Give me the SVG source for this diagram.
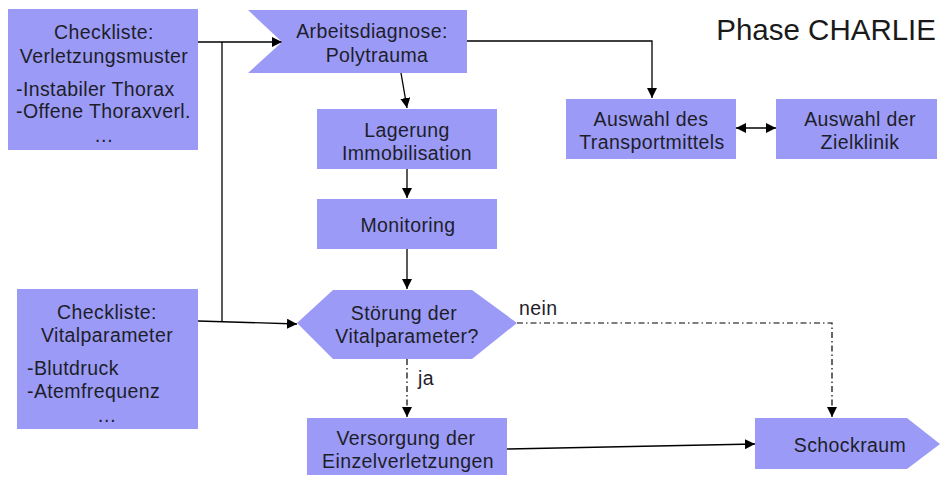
<svg xmlns="http://www.w3.org/2000/svg" width="940" height="477" viewBox="0 0 940 477">
  <style>
    .box { fill: #9b9bf7; stroke: none; }
    .t { font-family: "Liberation Sans", Arial, sans-serif; font-size: 19.5px; letter-spacing: 0.4px; fill: #1e1e2a; }
    .c { text-anchor: middle; }
    .ln { fill: none; stroke: #000; stroke-width: 1.3; }
    .dd { fill: none; stroke: #000; stroke-width: 1.2; stroke-dasharray: 6 3 1.5 3; }
  </style>
  <defs>
    <marker id="ah" viewBox="0 0 10 10" refX="10" refY="5" markerWidth="10" markerHeight="10" markerUnits="userSpaceOnUse" orient="auto-start-reverse">
      <path d="M0,0 L10,5 L0,10 z" fill="#000"/>
    </marker>
  </defs>

  <rect width="940" height="477" fill="#fff"/>

  <text x="936" y="40" text-anchor="end" font-family="'Liberation Sans', Arial, sans-serif" font-size="29.5" fill="#1a1a1a">Phase CHARLIE</text>

  <g id="connectors">
    <path class="ln" d="M198,42 L282,42" marker-end="url(#ah)"/>
    <path class="ln" d="M222,42 L222,322"/>
    <path class="ln" d="M198,321 L297,324" marker-end="url(#ah)"/>
    <path class="ln" d="M401,73 L407,108" marker-end="url(#ah)"/>
    <path class="ln" d="M407,169 L407,198" marker-end="url(#ah)"/>
    <path class="ln" d="M407,249 L407,289" marker-end="url(#ah)"/>
    <path class="ln" d="M467,41 L652,41 L652,98" marker-end="url(#ah)"/>
    <path class="ln" d="M736,128 L776,128" marker-start="url(#ah)" marker-end="url(#ah)"/>
    <path class="dd" d="M407,359 L407,417" marker-end="url(#ah)"/>
    <path class="dd" d="M517,323 L832,323 L832,417" marker-end="url(#ah)"/>
    <path class="ln" d="M507,449 L755,444" marker-end="url(#ah)"/>
    <text class="t" x="418" y="385">ja</text>
    <text class="t" x="519" y="315">nein</text>
  </g>

  <g id="checkliste-verletzungsmuster">
    <rect class="box" x="8" y="9" width="190" height="141"/>
    <text class="t c" x="104" y="39">Checkliste:</text>
    <text class="t c" x="104" y="63">Verletzungsmuster</text>
    <text class="t" x="16" y="96">-Instabiler Thorax</text>
    <text class="t" x="16" y="118">-Offene Thoraxverl.</text>
    <text class="t c" x="104" y="142">…</text>
  </g>

  <g id="arbeitsdiagnose">
    <polygon class="box" points="248,10 467,10 467,73 248,73 282,42"/>
    <text class="t c" x="372" y="38">Arbeitsdiagnose:</text>
    <text class="t c" x="377" y="62">Polytrauma</text>
  </g>

  <g id="lagerung">
    <rect class="box" x="317" y="109" width="180" height="60"/>
    <text class="t c" x="407" y="137">Lagerung</text>
    <text class="t c" x="407" y="160">Immobilisation</text>
  </g>

  <g id="monitoring">
    <rect class="box" x="317" y="199" width="180" height="50"/>
    <text class="t c" x="408" y="232">Monitoring</text>
  </g>

  <g id="transportmittel">
    <rect class="box" x="566" y="99" width="170" height="60"/>
    <text class="t c" x="651" y="126">Auswahl des</text>
    <text class="t c" x="652" y="149">Transportmittels</text>
  </g>

  <g id="zielklinik">
    <rect class="box" x="776" y="99" width="161" height="60"/>
    <text class="t c" x="860" y="126">Auswahl der</text>
    <text class="t c" x="860" y="149">Zielklinik</text>
  </g>

  <g id="checkliste-vitalparameter">
    <rect class="box" x="17" y="289" width="181" height="140"/>
    <text class="t c" x="107" y="319">Checkliste:</text>
    <text class="t c" x="107" y="342">Vitalparameter</text>
    <text class="t" x="27" y="375">-Blutdruck</text>
    <text class="t" x="27" y="398">-Atemfrequenz</text>
    <text class="t c" x="107" y="422">…</text>
  </g>

  <g id="stoerung">
    <polygon class="box" points="297,323 333,290 472,290 517,323 472,359 333,359"/>
    <text class="t c" x="404" y="320">Störung der</text>
    <text class="t c" x="407" y="343">Vitalparameter?</text>
  </g>

  <g id="versorgung">
    <rect class="box" x="307" y="418" width="200" height="57"/>
    <text class="t c" x="406" y="445">Versorgung der</text>
    <text class="t c" x="408" y="468">Einzelverletzungen</text>
  </g>

  <g id="schockraum">
    <polygon class="box" points="755,418 907,418 940,444 907,469 755,469"/>
    <text class="t c" x="850" y="452">Schockraum</text>
  </g>
</svg>
